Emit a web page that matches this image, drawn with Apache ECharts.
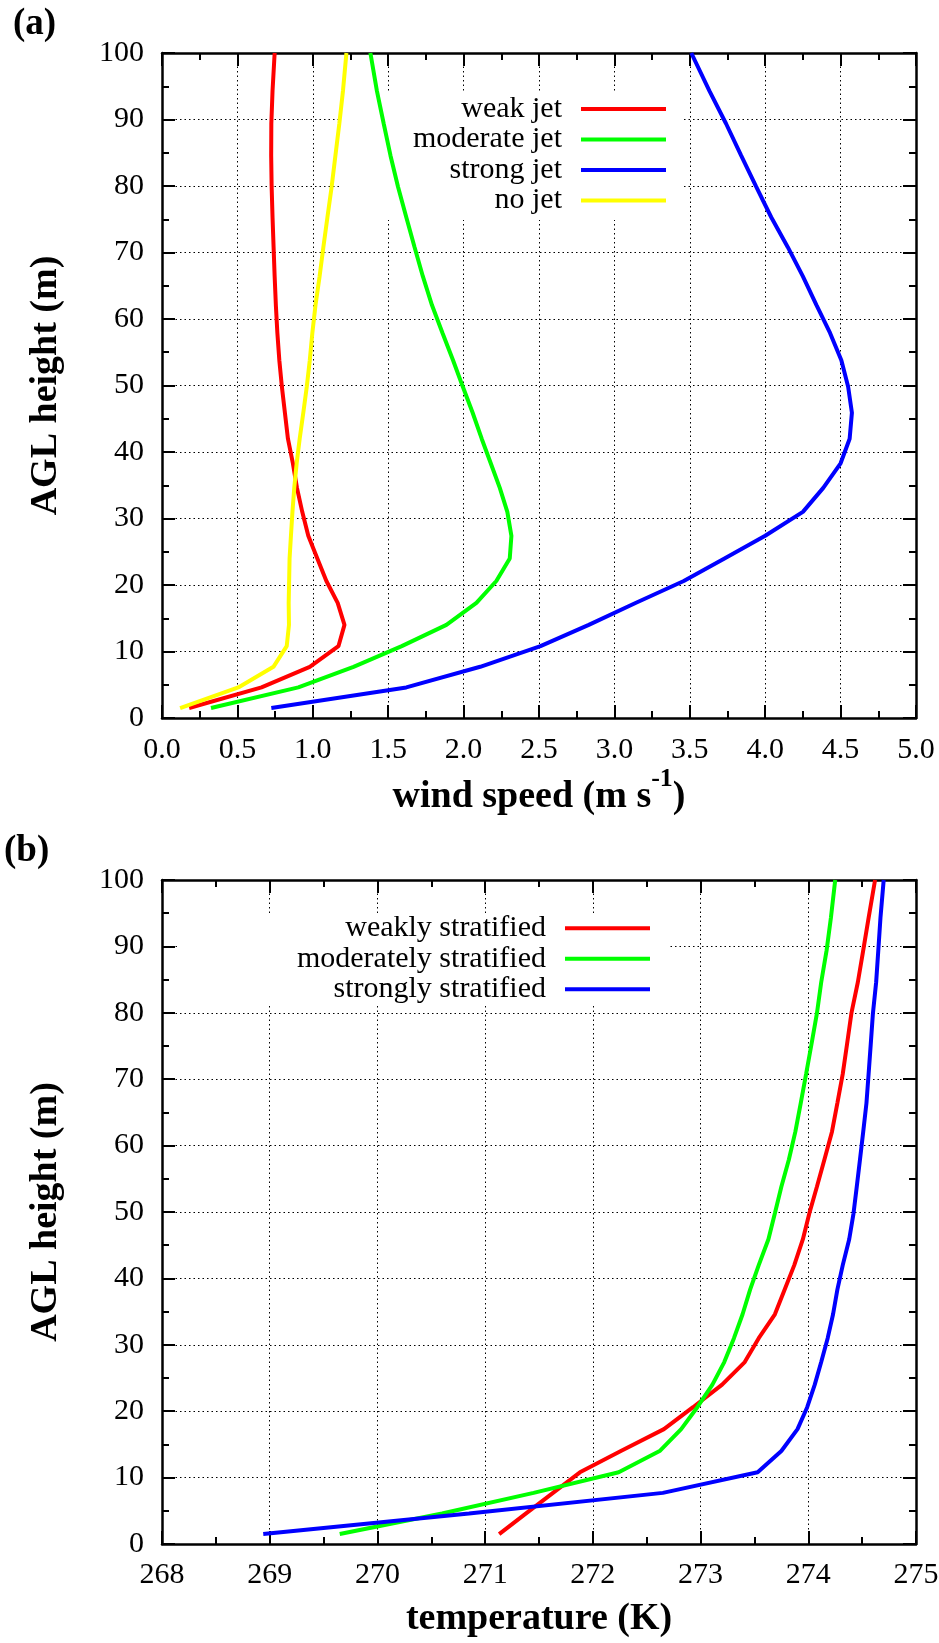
<!DOCTYPE html>
<html><head><meta charset="utf-8">
<script src="https://cdn.jsdelivr.net/npm/echarts@6/dist/echarts.min.js"></script>
<style>html,body{margin:0;padding:0;background:#fff}#c{width:939px;height:1643px}</style>
</head><body><div id="c"></div>
<script>
// ---- data ----
const heights = [1.5, 4.6, 7.7, 10.8, 14.0, 17.3, 20.6, 24.0, 27.4, 31.0, 34.6, 38.3, 42.0, 45.9, 49.8, 53.8, 57.9, 62.1, 66.4, 70.8, 75.3, 79.9, 84.6, 89.4, 94.3, 100];

// panel (a): wind speed (m/s)
const weakJet     = [0.18, 0.66, 0.98, 1.17, 1.21, 1.165, 1.09, 1.03, 0.97, 0.93, 0.895, 0.868, 0.835, 0.815, 0.795, 0.778, 0.765, 0.755, 0.747, 0.740, 0.733, 0.727, 0.724, 0.725, 0.733, 0.747];
const moderateJet = [0.325, 0.904, 1.27, 1.59, 1.886, 2.085, 2.217, 2.306, 2.317, 2.29, 2.24, 2.18, 2.12, 2.06, 1.995, 1.93, 1.86, 1.79, 1.73, 1.675, 1.62, 1.565, 1.515, 1.47, 1.425, 1.382];
const strongJet   = [0.725, 1.62, 2.11, 2.51, 2.83, 3.14, 3.46, 3.73, 4.0, 4.25, 4.385, 4.50, 4.56, 4.575, 4.55, 4.505, 4.43, 4.34, 4.25, 4.15, 4.04, 3.94, 3.84, 3.74, 3.63, 3.51];
const noJet       = [0.12, 0.506, 0.739, 0.827, 0.842, 0.840, 0.843, 0.846, 0.855, 0.865, 0.877, 0.893, 0.913, 0.937, 0.96, 0.98, 0.997, 1.018, 1.045, 1.07, 1.097, 1.125, 1.15, 1.176, 1.20, 1.223];

// panel (b): temperature (K)
const weaklyStrat     = [271.13, 271.38, 271.63, 271.88, 272.26, 272.66, 272.93, 273.20, 273.41, 273.54, 273.69, 273.78, 273.87, 273.95, 274.01, 274.08, 274.15, 274.22, 274.27, 274.32, 274.36, 274.40, 274.46, 274.51, 274.56, 274.62];
const moderatelyStrat = [269.65, 270.60, 271.45, 272.24, 272.62, 272.82, 272.97, 273.11, 273.22, 273.31, 273.39, 273.46, 273.54, 273.63, 273.69, 273.75, 273.82, 273.88, 273.93, 273.98, 274.03, 274.08, 274.12, 274.17, 274.21, 274.25];
const stronglyStrat   = [268.94, 270.85, 272.65, 273.53, 273.75, 273.90, 273.99, 274.06, 274.12, 274.18, 274.23, 274.27, 274.32, 274.38, 274.42, 274.45, 274.48, 274.51, 274.54, 274.56, 274.58, 274.60, 274.63, 274.65, 274.67, 274.70];

const namesA = ['weak jet', 'moderate jet', 'strong jet', 'no jet'];
const namesB = ['weakly stratified', 'moderately stratified', 'strongly stratified'];

const xTickLabelsA = ['0.0','0.5','1.0','1.5','2.0','2.5','3.0','3.5','4.0','4.5','5.0'];
const xTickLabelsB = ['268','269','270','271','272','273','274','275'];
const yTickLabels = ['0','10','20','30','40','50','60','70','80','90','100'];

// ---- styling ----
const FONT = 'Liberation Serif, Times New Roman, serif';
const colorsA = ['#ff0000', '#00ff00', '#0000ff', '#ffff00'];
const colorsB = ['#ff0000', '#00ff00', '#0000ff'];

const gridA = {left: 162, top: 53, width: 754, height: 665};
const gridB = {left: 162, top: 880, width: 754, height: 664};

function baseAxis(extra) {
  return Object.assign({
    type: 'value',
    axisLine: {show: true, onZero: false, lineStyle: {color: '#000', width: 2.5}},
    axisTick: {show: true, inside: true, length: 13, lineStyle: {color: '#000', width: 2}},
    minorTick: {show: true, splitNumber: 2, length: 7, lineStyle: {color: '#000', width: 2}},
    minorSplitLine: {show: false},
    splitLine: {show: false},
    axisLabel: {show: false}
  }, extra);
}
const gridLineStyle = {show: true, lineStyle: {color: '#000', width: 1, type: [1.5, 3]}};
const labelStyle = {fontSize: 30, fontFamily: FONT, color: '#000', showMinLabel: true, showMaxLabel: true};
const titleRich = {
  b: {fontSize: 38, fontWeight: 'bold', fontFamily: FONT, color: '#000', lineHeight: 50, verticalAlign: 'bottom'},
  s: {fontSize: 26, fontWeight: 'bold', fontFamily: FONT, color: '#000', verticalAlign: 'top'}
};

const xAxes = [
  baseAxis({gridIndex: 0, position: 'bottom', min: 0, max: 5, interval: 0.5,
    splitLine: gridLineStyle,
    axisLabel: Object.assign({show: true, margin: 17, formatter: v => xTickLabelsA[Math.round(v / 0.5)]}, labelStyle),
    name: '{b|wind speed (m s}{s|-1}{b|)}', nameLocation: 'middle', nameGap: 42,
    nameTextStyle: {rich: titleRich}}),
  baseAxis({gridIndex: 0, position: 'top', min: 0, max: 5, interval: 0.5}),
  baseAxis({gridIndex: 1, position: 'bottom', min: 268, max: 275, interval: 1,
    splitLine: gridLineStyle,
    axisLabel: Object.assign({show: true, margin: 16, formatter: v => xTickLabelsB[Math.round(v - 268)]}, labelStyle),
    name: 'temperature (K)', nameLocation: 'middle', nameGap: 56,
    nameTextStyle: {fontSize: 38, fontWeight: 'bold', fontFamily: FONT, color: '#000', lineHeight: 38}}),
  baseAxis({gridIndex: 1, position: 'top', min: 268, max: 275, interval: 1})
];
function yAxisPair(gi) {
  return [
    baseAxis({gridIndex: gi, position: 'left', min: 0, max: 100, interval: 10,
      splitLine: gridLineStyle,
      axisLabel: Object.assign({show: true, margin: 18, formatter: v => yTickLabels[Math.round(v / 10)]}, labelStyle),
      name: 'AGL height (m)', nameLocation: 'middle', nameRotate: 90, nameGap: 97,
      nameTextStyle: {fontSize: 38, fontWeight: 'bold', fontFamily: FONT, color: '#000', lineHeight: 38}}),
    baseAxis({gridIndex: gi, position: 'right', min: 0, max: 100, interval: 10})
  ];
}
const yAxes = yAxisPair(0).concat(yAxisPair(1));

function mkSeries(name, vals, color, xi, yi) {
  return {
    type: 'line', name: name, xAxisIndex: xi, yAxisIndex: yi,
    data: heights.map((h, i) => [vals[i], h]),
    showSymbol: false, symbol: 'none', smooth: false, clip: true,
    lineStyle: {color: color, width: 4}, itemStyle: {color: color},
    emphasis: {disabled: true}, z: 2
  };
}
const seriesA = [weakJet, moderateJet, strongJet, noJet].map((v, i) => mkSeries(namesA[i], v, colorsA[i], 0, 0));
const seriesB = [weaklyStrat, moderatelyStrat, stronglyStrat].map((v, i) => mkSeries(namesB[i], v, colorsB[i], 2, 2));

// ---- legend (gnuplot style key) & panel labels ----
const graphics = [];
graphics.push({type: 'rect', z: 1, silent: true, shape: {x: 342, y: 93, width: 341, height: 127}, style: {fill: '#fff'}});
graphics.push({type: 'rect', z: 1, silent: true, shape: {x: 177, y: 913, width: 491, height: 92}, style: {fill: '#fff'}});
const keyA = {textRight: 562, x1: 581, x2: 666, y0: 109, dy: 30.5};
namesA.forEach((n, i) => {
  const y = keyA.y0 + i * keyA.dy;
  graphics.push({type: 'text', z: 3, x: keyA.textRight, y: y, style: {text: n, fill: '#000', fontSize: 30, fontFamily: FONT, textAlign: 'right', textVerticalAlign: 'middle'}});
  graphics.push({type: 'line', z: 3, shape: {x1: keyA.x1, y1: y, x2: keyA.x2, y2: y}, style: {stroke: colorsA[i], lineWidth: 4}});
});
const keyB = {textRight: 546, x1: 565, x2: 650, y0: 928.3, dy: 30.5};
namesB.forEach((n, i) => {
  const y = keyB.y0 + i * keyB.dy;
  graphics.push({type: 'text', z: 3, x: keyB.textRight, y: y, style: {text: n, fill: '#000', fontSize: 30, fontFamily: FONT, textAlign: 'right', textVerticalAlign: 'middle'}});
  graphics.push({type: 'line', z: 3, shape: {x1: keyB.x1, y1: y, x2: keyB.x2, y2: y}, style: {stroke: colorsB[i], lineWidth: 4}});
});
graphics.push({type: 'text', z: 3, x: 13, y: 24, style: {text: '(a)', fill: '#000', fontSize: 37, fontWeight: 'bold', fontFamily: FONT, textVerticalAlign: 'middle'}});
graphics.push({type: 'text', z: 3, x: 4, y: 851, style: {text: '(b)', fill: '#000', fontSize: 37, fontWeight: 'bold', fontFamily: FONT, textVerticalAlign: 'middle'}});

const chart = echarts.init(document.getElementById('c'), null, {renderer: 'canvas'});
chart.setOption({
  animation: false,
  backgroundColor: '#fff',
  grid: [Object.assign({outerBoundsMode: 'none', containLabel: false}, gridA), Object.assign({outerBoundsMode: 'none', containLabel: false}, gridB)],
  xAxis: xAxes,
  yAxis: yAxes,
  series: seriesA.concat(seriesB),
  graphic: {elements: graphics}
});
</script></body></html>
